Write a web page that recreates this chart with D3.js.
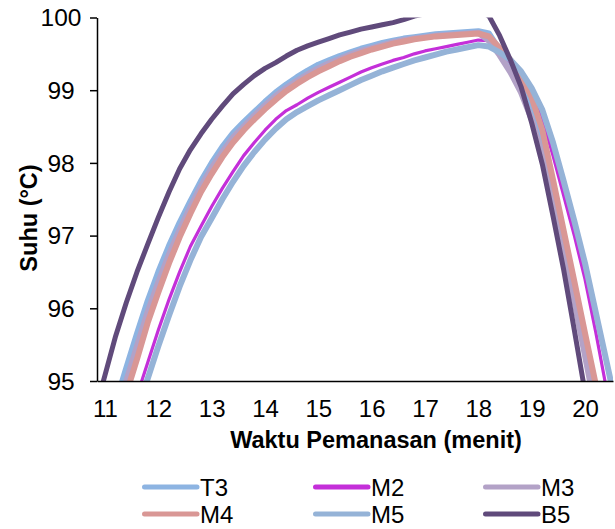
<!DOCTYPE html>
<html><head><meta charset="utf-8">
<script src="https://cdn.jsdelivr.net/npm/d3@7"></script>
<style>html,body{margin:0;padding:0;background:#fff;}svg{display:block;}</style>
</head><body>
<svg id="chart" width="615" height="529"></svg>
<script>
const minutes = [10.6,10.8,11.0,11.2,11.4,11.6,11.8,12.0,12.2,12.4,12.6,12.8,13.0,13.2,13.4,13.6,13.8,14.0,14.2,14.4,14.6,14.8,15.0,15.2,15.4,15.6,15.8,16.0,16.2,16.4,16.6,16.8,17.0,17.2,17.4,17.6,17.8,18.0,18.2,18.4,18.6,18.8,19.0,19.2,19.4,19.6,19.8,20.0,20.2,20.4,20.6];
const T3 = [93.3,93.75,94.2,94.7,95.18,95.65,96.1,96.5,96.86,97.18,97.47,97.75,98.0,98.22,98.41,98.56,98.7,98.84,98.97,99.08,99.18,99.27,99.35,99.41,99.47,99.52,99.57,99.61,99.65,99.68,99.71,99.73,99.75,99.77,99.78,99.79,99.8,99.81,99.78,99.55,99.35,99.1,98.78,98.3,97.62,96.93,96.22,95.5,94.78,94.05,93.3];
const M2 = [92.6,93.1,93.5,93.9,94.35,94.8,95.25,95.7,96.12,96.5,96.85,97.13,97.4,97.65,97.88,98.1,98.28,98.45,98.6,98.72,98.8,98.89,98.97,99.04,99.11,99.18,99.25,99.31,99.36,99.41,99.45,99.5,99.54,99.57,99.6,99.63,99.66,99.69,99.68,99.55,99.38,99.17,98.95,98.6,98.1,97.55,97.0,96.4,95.68,94.9,94.1];
const M3 = [93.15,93.65,94.1,94.52,95.0,95.48,95.95,96.36,96.74,97.08,97.39,97.68,97.93,98.15,98.35,98.5,98.65,98.79,98.92,99.03,99.13,99.22,99.3,99.37,99.43,99.49,99.54,99.58,99.62,99.66,99.69,99.71,99.73,99.75,99.76,99.77,99.78,99.79,99.68,99.48,99.25,98.97,98.6,98.1,97.45,96.8,96.1,95.35,94.6,93.85,93.1];
const M4 = [93.0,93.55,94.0,94.35,94.83,95.3,95.8,96.22,96.62,96.98,97.3,97.6,97.85,98.08,98.28,98.45,98.6,98.74,98.87,98.99,99.09,99.18,99.26,99.33,99.4,99.46,99.51,99.56,99.6,99.64,99.67,99.7,99.72,99.74,99.75,99.76,99.77,99.78,99.74,99.58,99.42,99.19,98.9,98.45,97.77,97.07,96.37,95.66,94.96,94.25,93.5];
const M5 = [92.4,92.9,93.3,93.7,94.15,94.6,95.03,95.48,95.9,96.3,96.66,96.98,97.24,97.5,97.74,97.96,98.15,98.32,98.47,98.6,98.7,98.78,98.86,98.93,99.0,99.07,99.14,99.2,99.26,99.31,99.36,99.41,99.45,99.49,99.53,99.56,99.59,99.62,99.6,99.52,99.42,99.26,99.03,98.73,98.28,97.75,97.2,96.62,95.95,95.28,94.6];
const B5 = [94.0,94.55,95.08,95.62,96.08,96.5,96.88,97.25,97.6,97.92,98.18,98.4,98.6,98.78,98.95,99.08,99.2,99.3,99.38,99.47,99.55,99.61,99.66,99.71,99.76,99.8,99.84,99.87,99.9,99.93,99.97,100.02,100.05,100.07,100.08,100.1,100.1,100.1,100.02,99.75,99.42,99.05,98.55,97.98,97.27,96.53,95.7,94.85,94.0,93.2,92.4];
const seriesNames = ["T3","M2","M3","M4","M5","B5"];
const xTicks = [11,12,13,14,15,16,17,18,19,20];
const yTicks = [95,96,97,98,99,100];
const xTitle = "Waktu Pemanasan (menit)";
const yTitle = "Suhu (°C)";

const seriesData = {T3, M2, M3, M4, M5, B5};
const colors = {T3:"#8db4e2", M2:"#c42fd9", M3:"#b3a2c7", M4:"#d99795", M5:"#95b3d7", B5:"#604a7b"};
const widths = {T3:6, M2:3.2, M3:6, M4:6, M5:6, B5:5};

const svg = d3.select("#chart");
const pLeft = 97, pRight = 613, pTop = 17.5, pBottom = 381;
const x = d3.scaleLinear().domain([10.85, 20.525]).range([pLeft, pRight]);
const y = d3.scaleLinear().domain([95, 100]).range([pBottom, pTop]);
const font = "'Liberation Sans', Arial, sans-serif";

svg.append("defs").append("clipPath").attr("id","plotclip")
  .append("rect").attr("x", pLeft).attr("y", pTop).attr("width", pRight-pLeft).attr("height", pBottom-pTop);

const line = d3.line().x((d,i)=>x(minutes[i])).y(d=>y(d));
const g = svg.append("g").attr("clip-path","url(#plotclip)");
seriesNames.forEach(name => {
  g.append("path").datum(seriesData[name])
    .attr("d", line).attr("fill","none")
    .attr("stroke", colors[name]).attr("stroke-width", widths[name])
    .attr("stroke-linejoin","round").attr("stroke-linecap","butt");
});

// Y axis
const ya = svg.append("g").attr("transform",`translate(${pLeft},0)`)
  .call(d3.axisLeft(y).tickValues(yTicks).tickSize(7).tickSizeOuter(0).tickFormat(d3.format("d")));
ya.select(".domain").attr("stroke","#000").attr("stroke-width",1.5);
ya.selectAll(".tick line").attr("stroke","#000").attr("stroke-width",1.5);
ya.selectAll(".tick text").attr("x",-36).attr("dy","0.34em").attr("text-anchor","middle")
  .attr("font-family",font).attr("font-size",24.5).attr("fill","#000");

// X axis
const xa = svg.append("g").attr("transform",`translate(0,${pBottom})`)
  .call(d3.axisBottom(x).tickValues(xTicks).tickSize(0).tickSizeOuter(0).tickFormat(d3.format("d")));
xa.select(".domain").attr("stroke","#000").attr("stroke-width",1.5);
xa.selectAll(".tick text").attr("y",36).attr("dy","0").attr("text-anchor","middle")
  .attr("font-family",font).attr("font-size",24).attr("fill","#000");

// Titles
svg.append("text").attr("x",376).attr("y",448).attr("text-anchor","middle")
  .attr("font-family",font).attr("font-weight","bold").attr("font-size",23.5).text(xTitle);
svg.append("text").attr("transform","translate(37,218) rotate(-90)").attr("text-anchor","middle")
  .attr("font-family",font).attr("font-weight","bold").attr("font-size",23.5).text(yTitle);

// Legend
const legX = [142, 313, 483];
const legY = [487, 514];
seriesNames.forEach((name, i) => {
  const cx = legX[i % 3], cy = legY[Math.floor(i / 3)];
  svg.append("line").attr("x1", cx+2.5).attr("x2", cx+55).attr("y1", cy).attr("y2", cy)
    .attr("stroke", colors[name]).attr("stroke-width",5).attr("stroke-linecap","round");
  svg.append("text").attr("x", cx+58).attr("y", cy+8.5)
    .attr("font-family",font).attr("font-size",24).attr("fill","#000").text(name);
});
</script>
</body></html>
